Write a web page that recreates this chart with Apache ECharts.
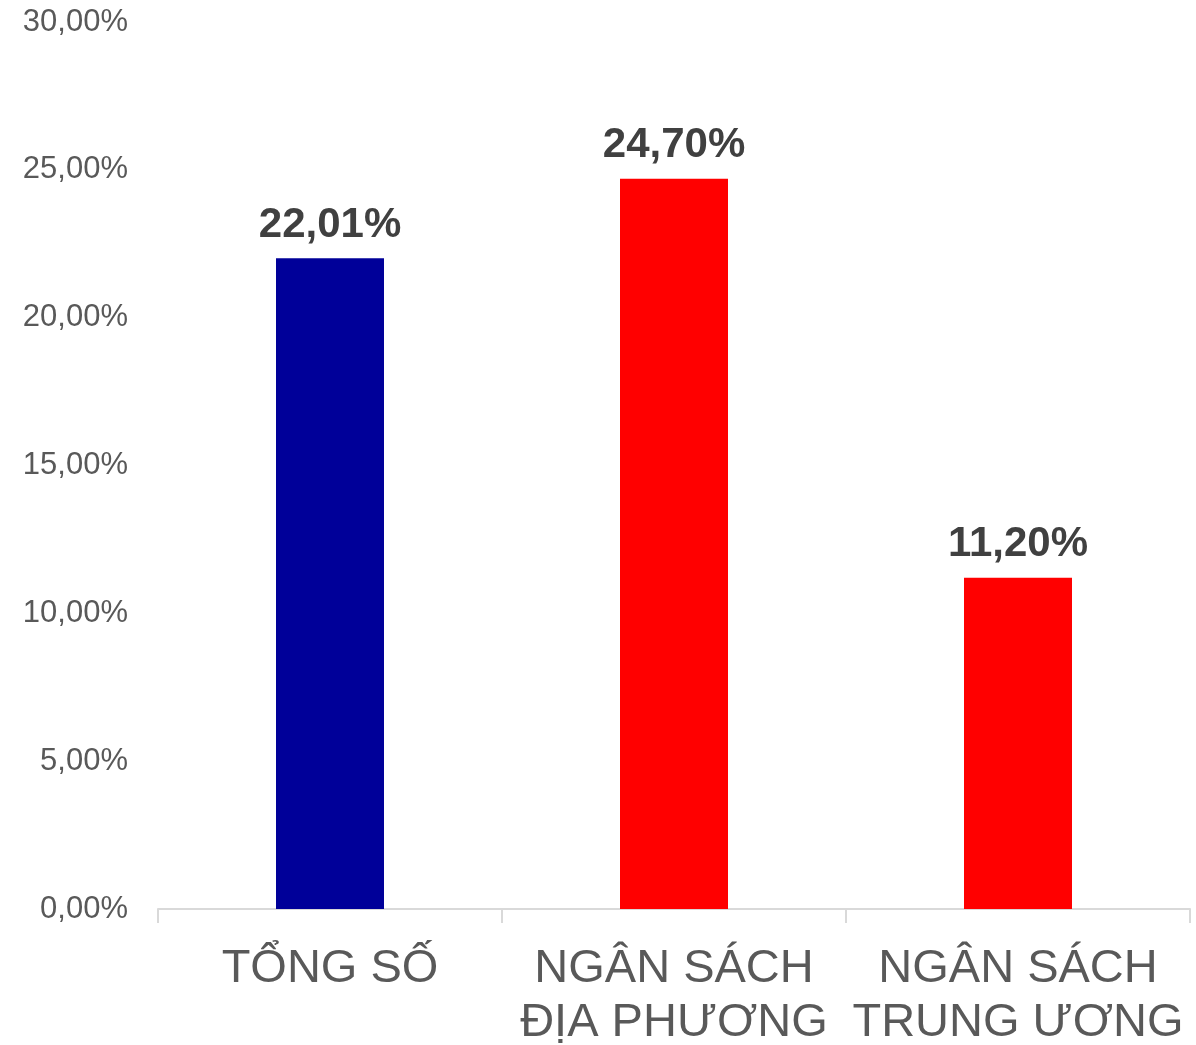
<!DOCTYPE html>
<html>
<head>
<meta charset="utf-8">
<script src="https://cdn.jsdelivr.net/npm/echarts@6/dist/echarts.min.js"></script>
<style>
  html, body { margin: 0; padding: 0; background: #fff; }
  #chart { width: 1196px; height: 1045px; }
</style>
</head>
<body>
<div id="chart"></div>
<script>
const categories = ['TỔNG SỐ', 'NGÂN SÁCH\nĐỊA PHƯƠNG', 'NGÂN SÁCH\nTRUNG ƯƠNG'];
const values = [22.01, 24.70, 11.20];
const barColors = ['#000099', '#ff0000', '#ff0000'];

const fmt = (v) => v.toFixed(2).replace('.', ',') + '%';

const chart = echarts.init(document.getElementById('chart'));
chart.setOption({
  animation: false,
  textStyle: { fontFamily: '"Liberation Sans", Arial, sans-serif' },
  grid: { left: 158, right: 6, top: 22, bottom: 136, containLabel: false, outerBoundsMode: 'none' },
  xAxis: {
    type: 'category',
    data: categories,
    axisLine: { lineStyle: { color: '#d9d9d9', width: 2 } },
    axisTick: { show: true, length: 14, lineStyle: { color: '#d9d9d9', width: 2 } },
    axisLabel: {
      interval: 0,
      color: '#595959',
      fontSize: 47,
      lineHeight: 54,
      margin: 33
    }
  },
  yAxis: {
    type: 'value',
    min: 0,
    max: 30,
    interval: 5,
    axisLine: { show: false },
    axisTick: { show: false },
    splitLine: { show: false },
    axisLabel: {
      color: '#595959',
      fontSize: 31,
      margin: 30,
      formatter: fmt
    }
  },
  series: [{
    type: 'bar',
    barWidth: 108,
    data: values.map((v, i) => ({ value: v, itemStyle: { color: barColors[i] } })),
    label: {
      show: true,
      position: 'top',
      distance: 12,
      color: '#404040',
      fontSize: 42,
      fontWeight: 'bold',
      formatter: (p) => fmt(p.value)
    }
  }]
});
</script>
</body>
</html>
